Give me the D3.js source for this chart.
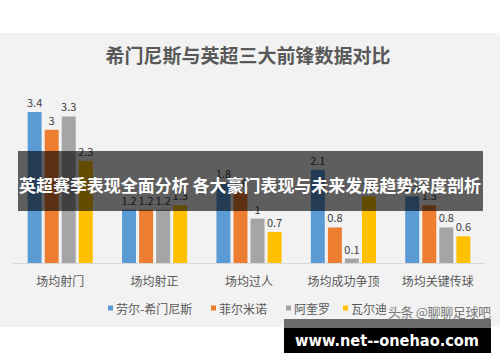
<!DOCTYPE html>
<html>
<head>
<meta charset="utf-8">
<script src="https://cdnjs.cloudflare.com/ajax/libs/d3/7.8.5/d3.min.js"></script>
<style>
  body { margin: 0; padding: 0; background: #ffffff; }
  svg { display: block; }
  text { font-family: "Noto Sans CJK SC", "Noto Sans", sans-serif; }
</style>
</head>
<body>
<div id="chart"></div>
<script>
var categories = ['场均射门', '场均射正', '场均过人', '场均成功争顶', '场均关键传球'];
var players = ['劳尔-希门尼斯', '菲尔米诺', '阿奎罗', '瓦尔迪'];
var jimenez = [3.4, 1.2, 1.8, 2.1, 1.5];
var firmino = [3, 1.2, 1.6, 0.8, 1.3];
var aguero = [3.3, 1.2, 1, 0.1, 0.8];
var vardy = [2.3, 1.3, 0.7, 1.5, 0.6];
var colors = ['#5b9bd5', '#ed7d31', '#a5a5a5', '#ffc000'];

var seriesValues = [jimenez, firmino, aguero, vardy];

initializeChart = function(){

    var width = 500,
        height = 362;
    var svg = d3.select("#chart")
                .append("svg")
                .attr("width", width)
                .attr("height", height);

    // chart panel
    svg.append("rect").attr("x", 0).attr("y", 33).attr("width", width).attr("height", 294).attr("fill", "#f2f2f2");

    svg.append("text")
       .attr("x", 248).attr("y", 54)
       .attr("text-anchor", "middle").attr("dominant-baseline", "central")
       .attr("font-size", 19).attr("font-weight", "bold").attr("fill", "#595959")
       .text("希门尼斯与英超三大前锋数据对比");

    var x0 = d3.scaleBand().domain(categories).range([13, 485]).paddingInner(0.31).paddingOuter(0.155);
    var x1 = d3.scaleBand().domain(d3.range(players.length)).range([0, x0.bandwidth()]).paddingInner(0.18);
    var y = d3.scaleLinear().domain([0, 4]).range([263, 85.4]);

    var rows = [];
    categories.forEach(function(c, i){
        seriesValues.forEach(function(s, j){
            rows.push({cat: c, s: j, v: s[i]});
        });
    });

    var bars = svg.append("g");
    bars.selectAll("rect").data(rows).enter().append("rect")
        .attr("x", function(d){ return x0(d.cat) + x1(d.s); })
        .attr("y", function(d){ return y(d.v); })
        .attr("width", x1.bandwidth())
        .attr("height", function(d){ return y(0) - y(d.v); })
        .attr("fill", function(d){ return colors[d.s]; });

    bars.selectAll("text").data(rows).enter().append("text")
        .attr("x", function(d){ return x0(d.cat) + x1(d.s) + x1.bandwidth() / 2; })
        .attr("y", function(d){ return y(d.v) - 5; })
        .attr("text-anchor", "middle")
        .attr("font-size", 11).attr("fill", "#404040")
        .text(function(d){ return d.v; });

    var xAxis = d3.axisBottom(x0).tickSize(0).tickPadding(14);
    var ax = svg.append("g").attr("transform", "translate(0,263)").call(xAxis);
    ax.select(".domain").attr("stroke", "#d9d9d9");
    ax.selectAll("text").attr("font-size", 12).attr("fill", "#595959")
      .style("font-family", '"Noto Sans CJK SC", sans-serif');

    // legend
    var legendX = [108, 211, 286, 343];
    var lg = svg.append("g");
    players.forEach(function(p, i){
        lg.append("rect").attr("x", legendX[i]).attr("y", 305.5).attr("width", 5).attr("height", 5).attr("fill", colors[i]);
        lg.append("text").attr("x", legendX[i] + 8).attr("y", 308).attr("dominant-baseline", "central")
          .attr("font-size", 12).attr("fill", "#595959").text(p);
    });

    // watermark texts
    svg.append("rect").attr("x", 386).attr("y", 301).attr("width", 108).attr("height", 17).attr("fill", "#f2f2f2");
    svg.append("text").attr("x", 388).attr("y", 311).attr("dominant-baseline", "central")
       .attr("font-size", 13).attr("fill", "#7a7a7a").attr("textLength", 103)
       .text("头条 @聊聊足球吧");

    svg.append("rect").attr("x", 284).attr("y", 319).attr("width", 207).attr("height", 9).attr("fill", "#6b6b6b");
    svg.append("rect").attr("x", 284).attr("y", 328).attr("width", 207).attr("height", 25).attr("fill", "#000000");
    svg.append("text").attr("x", 295).attr("y", 340.5).attr("dominant-baseline", "central")
       .attr("font-size", 16).attr("font-weight", "bold").attr("fill", "#ffffff")
       .attr("textLength", 184).attr("lengthAdjust", "spacingAndGlyphs")
       .style("font-family", '"DejaVu Sans", sans-serif')
       .text("www.net--onehao.com");

    // headline band
    svg.append("rect").attr("x", 18).attr("y", 151).attr("width", 465).attr("height", 60).attr("fill", "#000000").attr("opacity", 0.61);
    svg.append("text").attr("x", 250).attr("y", 184).attr("text-anchor", "middle").attr("dominant-baseline", "central")
       .attr("font-size", 17).attr("font-weight", "bold").attr("fill", "#ffffff")
       .attr("textLength", 462).attr("lengthAdjust", "spacingAndGlyphs")
       .text("英超赛季表现全面分析 各大豪门表现与未来发展趋势深度剖析");

};

initializeChart();
</script>
</body>
</html>
